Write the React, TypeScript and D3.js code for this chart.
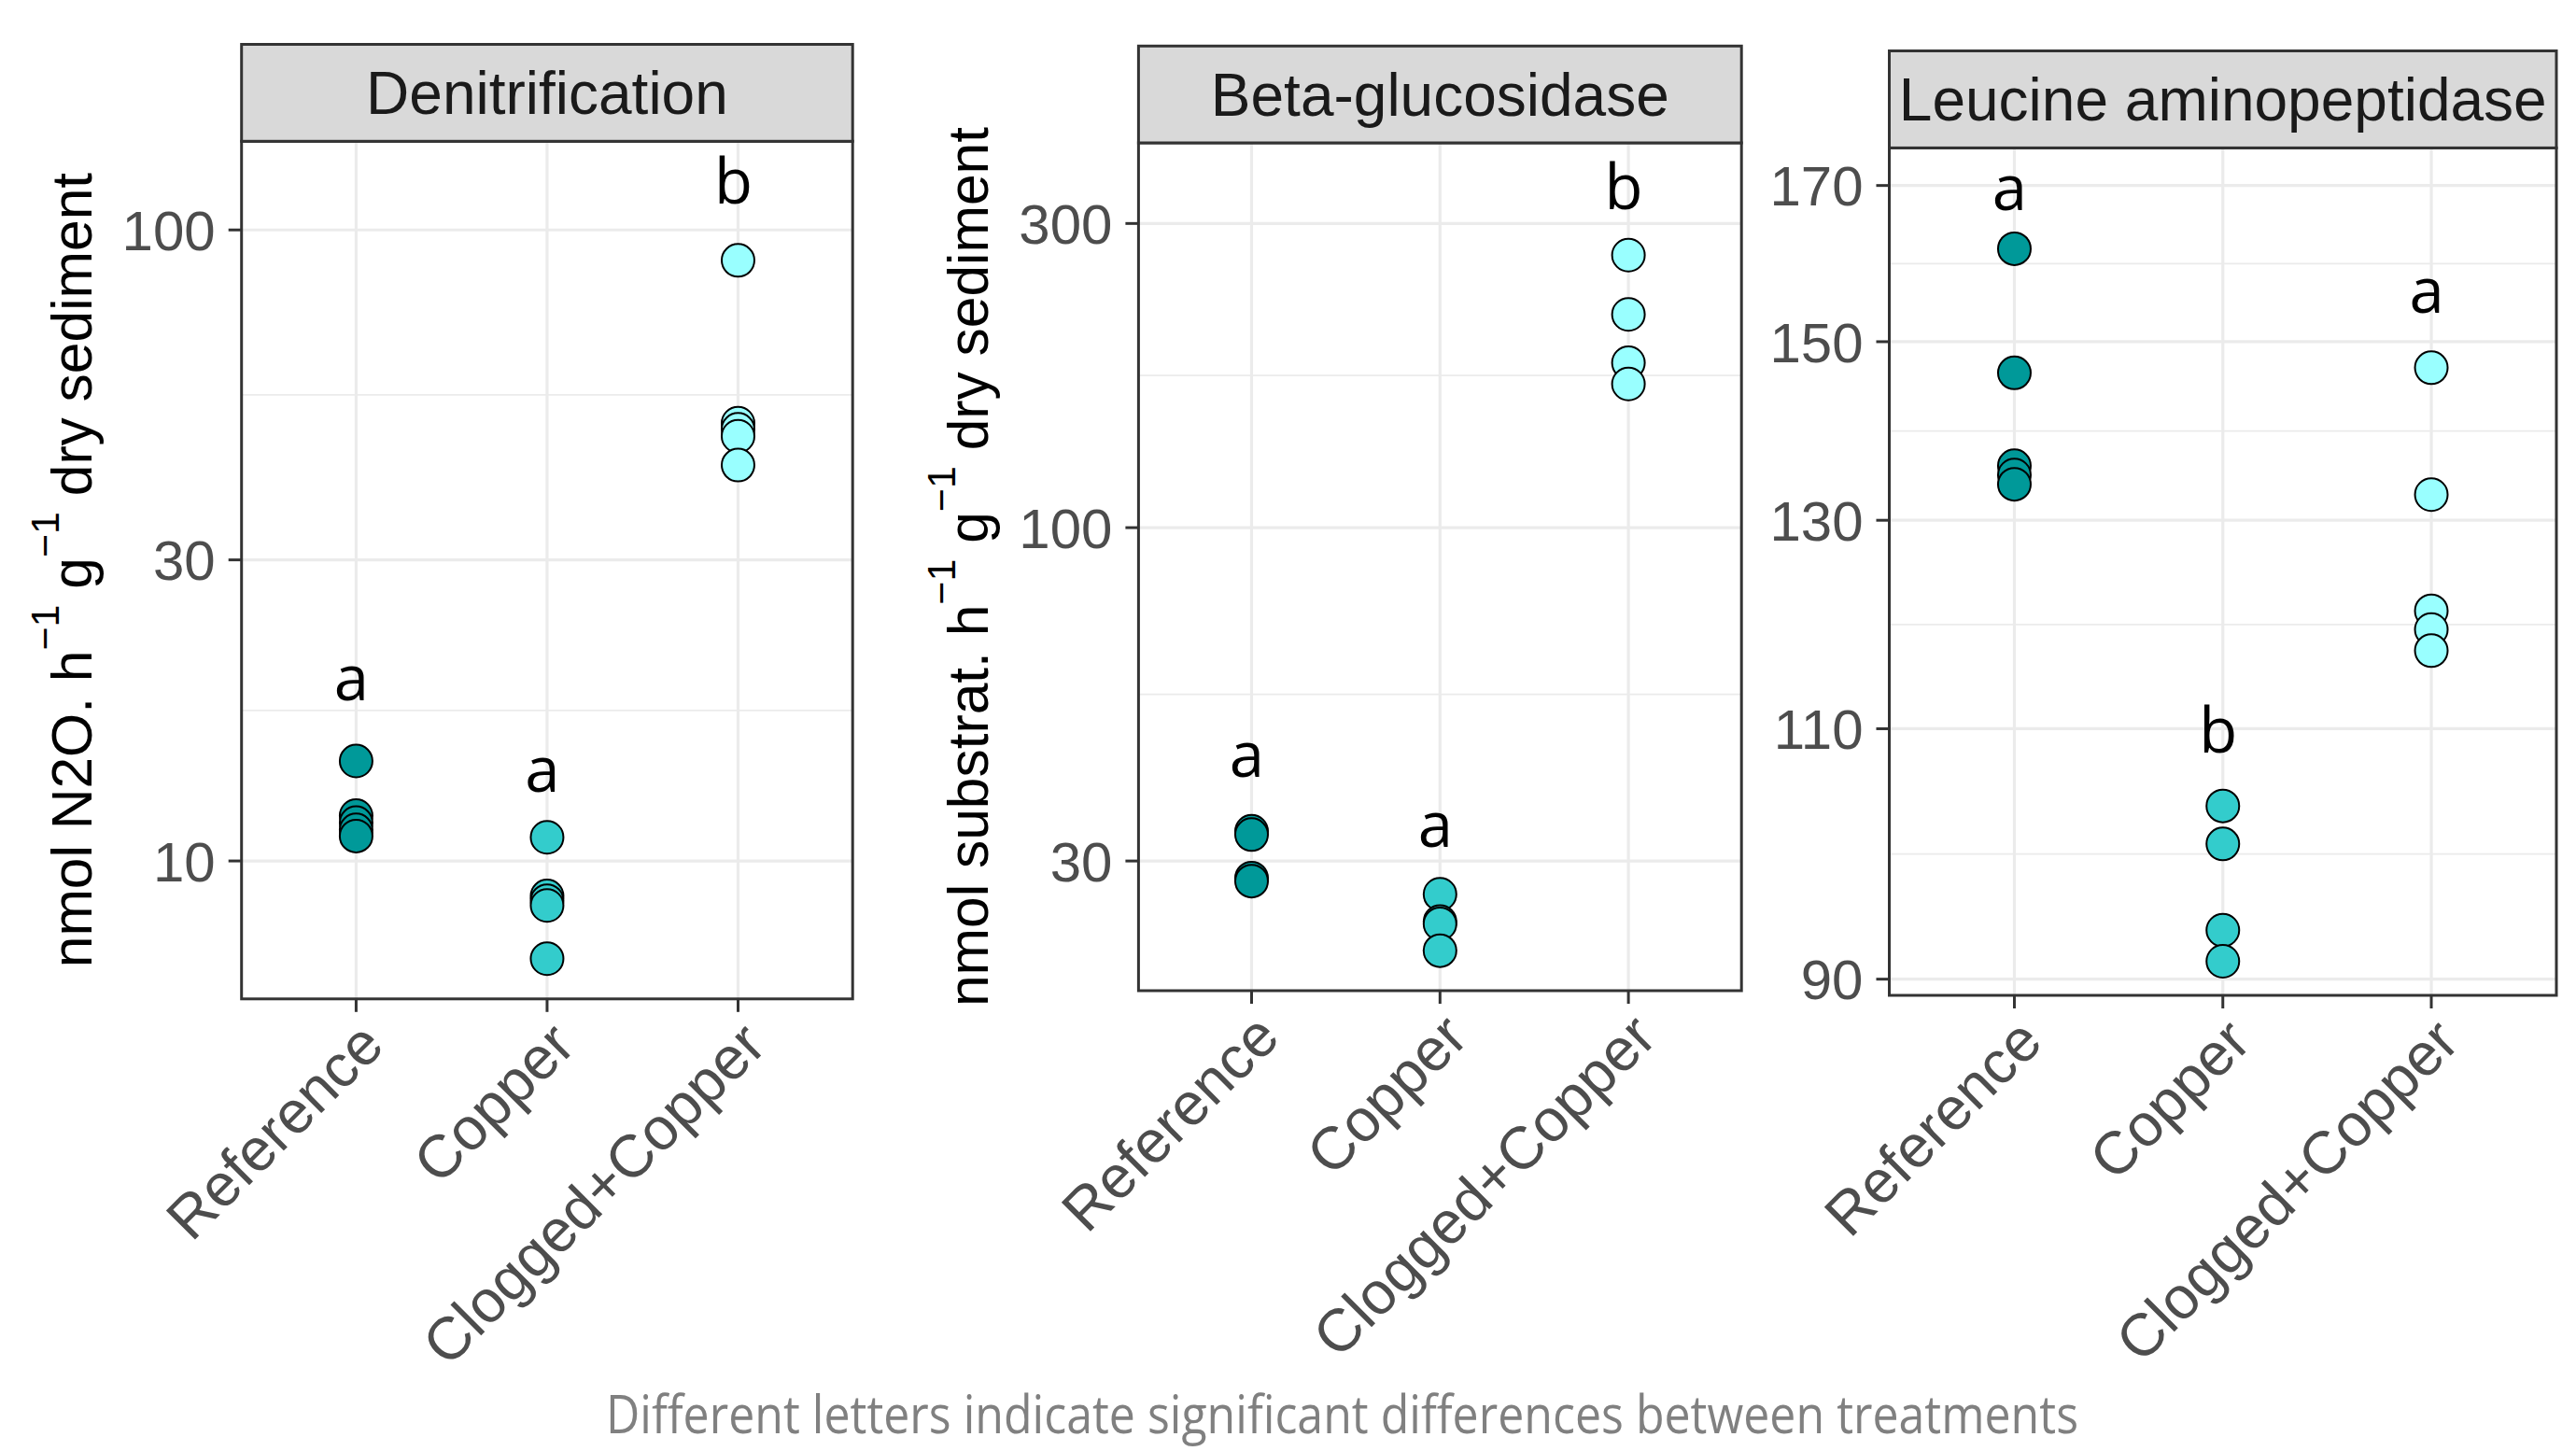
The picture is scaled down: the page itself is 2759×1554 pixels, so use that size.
import React from "react";
import * as d3 from "d3";

// ---------- data ----------
const categories = ["Reference", "Copper", "Clogged+Copper"];
const groupFills = ["#009999", "#33CCCC", "#99FFFF"];

const denitReference = [14.4, 11.8, 11.5, 11.2, 10.95];
const denitCopper = [10.9, 8.8, 8.65, 8.5, 7.0];
const denitClogged = [89.5, 49.4, 48.3, 47.1, 42.4];
const denitTicks = [10, 30, 100];
const denitDomain = [6.045, 138.2];
const denitLetters = ["a", "a", "b"];
const denitLetterPos = [19.1, 13.7, 119.9];

const betaReference = [33.4, 33.0, 28.2, 27.9];
const betaCopper = [26.6, 24.1, 23.9, 21.7];
const betaClogged = [267.6, 216, 181.4, 168];
const betaTicks = [30, 100, 300];
const betaDomain = [18.78, 401.4];
const betaLetters = ["a", "a", "b"];
const betaLetterPos = [43.2, 33.6, 343.9];

const leuReference = [161.6, 146.3, 135.8, 134.8, 133.8];
const leuCopper = [103.4, 100.3, 93.6, 91.3];
const leuClogged = [146.9, 132.7, 120.9, 119.1, 117.1];
const leuTicks = [90, 110, 130, 150, 170];
const leuDomain = [88.84, 175.2];
const leuLetters = ["a", "b", "a"];
const leuLetterPos = [168.9, 110.0, 155.6];

const caption = "Different letters indicate significant differences between treatments";

// ---------- layout ----------
const W = 2759;
const H = 1554;

type Panel = {
  title: string;
  groups: number[][];
  ticks: number[];
  domain: number[];
  letters: string[];
  letterPos: number[];
  yTitle: string | null;
  titleX: number;
  left: number;
  right: number;
  stripTop: number;
  stripBottom: number;
  bottom: number;
};

const panels: Panel[] = [
  {
    title: "Denitrification",
    groups: [denitReference, denitCopper, denitClogged],
    ticks: denitTicks,
    domain: denitDomain,
    letters: denitLetters,
    letterPos: denitLetterPos,
    yTitle: "nmol N2O. h",
    titleX: 98,
    left: 258.7,
    right: 913.2,
    stripTop: 47.5,
    stripBottom: 151.3,
    bottom: 1069.8,
  },
  {
    title: "Beta-glucosidase",
    groups: [betaReference, betaCopper, betaClogged],
    ticks: betaTicks,
    domain: betaDomain,
    letters: betaLetters,
    letterPos: betaLetterPos,
    yTitle: "nmol substrat. h",
    titleX: 1058,
    left: 1219.4,
    right: 1865.2,
    stripTop: 49.3,
    stripBottom: 153,
    bottom: 1061,
  },
  {
    title: "Leucine aminopeptidase",
    groups: [leuReference, leuCopper, leuClogged],
    ticks: leuTicks,
    domain: leuDomain,
    letters: leuLetters,
    letterPos: leuLetterPos,
    yTitle: null,
    titleX: 0,
    left: 2023.5,
    right: 2738,
    stripTop: 54.5,
    stripBottom: 158.4,
    bottom: 1066,
  },
];

const AXIS_FONT = "'Liberation Sans', Arial, sans-serif";
const LETTER_FONT = "'Open Sans', sans-serif";
const BORDER = "#333333";
const GRID = "#EBEBEB";

function PanelView({ p }: { p: Panel }) {
  const x = d3.scalePoint<string>().domain(categories).range([p.left, p.right]).padding(0.6);
  const y = d3.scaleLog().domain(p.domain).range([p.bottom, p.stripBottom]);
  const minors: number[] = [];
  const t = p.ticks;
  const ext = [t[0] * t[0] / t[1], ...t, t[t.length - 1] * t[t.length - 1] / t[t.length - 2]];
  for (let i = 0; i < ext.length - 1; i++) {
    const m = Math.sqrt(ext[i] * ext[i + 1]);
    if (m > p.domain[0] && m < p.domain[1]) minors.push(m);
  }
  const cy = (p.stripBottom + p.bottom) / 2;
  const stripCx = (p.left + p.right) / 2;
  const stripCy = (p.stripTop + p.stripBottom) / 2;
  return (
    <g>
      <rect x={p.left} y={p.stripBottom} width={p.right - p.left} height={p.bottom - p.stripBottom} fill="#FFFFFF" />
      {minors.map((m, i) => (
        <line key={"mi" + i} x1={p.left} x2={p.right} y1={y(m)} y2={y(m)} stroke={GRID} strokeWidth={1.8} />
      ))}
      {t.map((v, i) => (
        <line key={"ma" + i} x1={p.left} x2={p.right} y1={y(v)} y2={y(v)} stroke={GRID} strokeWidth={3.2} />
      ))}
      {categories.map((c) => (
        <line key={"vx" + c} x1={x(c)} x2={x(c)} y1={p.stripBottom} y2={p.bottom} stroke={GRID} strokeWidth={3.2} />
      ))}
      {p.groups.map((g, gi) =>
        g.map((v, i) => (
          <circle
            key={"pt" + gi + "-" + i}
            cx={x(categories[gi])}
            cy={y(v)}
            r={17.5}
            fill={groupFills[gi]}
            stroke="#000000"
            strokeWidth={2}
          />
        ))
      )}
      {p.letters.map((l, i) => (
        <text
          key={"lt" + i}
          x={(x(categories[i]) as number) - 5}
          y={y(p.letterPos[i])}
          dy={l === "b" ? "0.38em" : "0.27em"}
          textAnchor="middle"
          fontFamily={LETTER_FONT}
          fontSize={67}
          fill="#000000"
        >
          {l}
        </text>
      ))}
      <rect
        x={p.left}
        y={p.stripBottom}
        width={p.right - p.left}
        height={p.bottom - p.stripBottom}
        fill="none"
        stroke={BORDER}
        strokeWidth={3}
      />
      <rect
        x={p.left}
        y={p.stripTop}
        width={p.right - p.left}
        height={p.stripBottom - p.stripTop}
        fill="#D9D9D9"
        stroke={BORDER}
        strokeWidth={3}
      />
      <text
        x={stripCx}
        y={stripCy}
        dy="0.358em"
        textAnchor="middle"
        fontFamily={AXIS_FONT}
        fontSize={64}
        fill="#1A1A1A"
      >
        {p.title}
      </text>
      {t.map((v, i) => (
        <g key={"yt" + i}>
          <line x1={p.left - 14} x2={p.left} y1={y(v)} y2={y(v)} stroke={BORDER} strokeWidth={3} />
          <text
            x={p.left - 28}
            y={y(v)}
            dy="0.36em"
            textAnchor="end"
            fontFamily={AXIS_FONT}
            fontSize={60}
            fill="#4D4D4D"
          >
            {v}
          </text>
        </g>
      ))}
      {categories.map((c) => (
        <g key={"xt" + c}>
          <line x1={x(c)} x2={x(c)} y1={p.bottom} y2={p.bottom + 14} stroke={BORDER} strokeWidth={3} />
          <text
            transform={`translate(${x(c)},${p.bottom + 20}) rotate(-45)`}
            dy="0.72em"
            textAnchor="end"
            fontFamily={AXIS_FONT}
            fontSize={64}
            fill="#4D4D4D"
          >
            {c}
          </text>
        </g>
      ))}
      {p.yTitle && (
        <text
          transform={`translate(${p.titleX},${cy}) rotate(-90)`}
          textAnchor="middle"
          fontFamily={AXIS_FONT}
          fontSize={60.5}
          fill="#000000"
        >
          <tspan>{p.yTitle}</tspan>
          <tspan dy={-35} fontSize={43}>{"\u22121"}</tspan>
          <tspan dy={35}>{"\u00A0g"}</tspan>
          <tspan dy={-35} fontSize={43}>{"\u22121"}</tspan>
          <tspan dy={35}>{"\u00A0dry sediment"}</tspan>
        </text>
      )}
    </g>
  );
}

export default function App() {
  return (
    <svg
      width={W}
      height={H}
      viewBox={`0 0 ${W} ${H}`}
      style={{ position: "absolute", left: 0, top: 0, background: "#FFFFFF" }}
    >
      <rect x={0} y={0} width={W} height={H} fill="#FFFFFF" />
      {panels.map((p) => (
        <PanelView key={p.title} p={p} />
      ))}
      <text
        x={649}
        y={1535}
        textLength={1577}
        lengthAdjust="spacingAndGlyphs"
        fontFamily={LETTER_FONT}
        fontSize={56}
        fill="#808080"
      >
        {caption}
      </text>
    </svg>
  );
}
